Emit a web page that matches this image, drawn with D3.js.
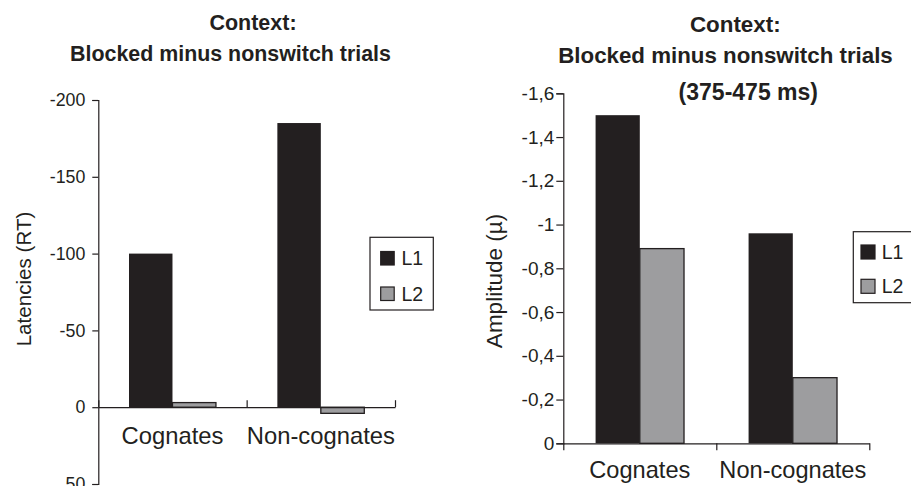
<!DOCTYPE html>
<html>
<head>
<meta charset="utf-8">
<script src="https://cdn.jsdelivr.net/npm/d3@7"></script>
<style>
  html, body { margin: 0; padding: 0; background: #fff; }
  svg { display: block; }
  text { font-family: "Liberation Sans", Arial, Helvetica, sans-serif; fill: #231f20; }
</style>
</head>
<body>
<svg id="chart" width="911" height="486"></svg>
<script>
// ---- data ----
const categories = ["Cognates", "Non-cognates"];
const seriesNames = ["L1", "L2"];
const latencyL1 = [-100, -185];
const latencyL2 = [-3, 4];
const amplitudeL1 = [-1.50, -0.96];
const amplitudeL2 = [-0.89, -0.30];
const latencyTicks = [-200, -150, -100, -50, 0, 50];
const latencyTickLabels = ["-200", "-150", "-100", "-50", "0", "50"];
const amplitudeTicks = [-1.6, -1.4, -1.2, -1.0, -0.8, -0.6, -0.4, -0.2, 0];
const amplitudeTickLabels = ["-1,6", "-1,4", "-1,2", "-1", "-0,8", "-0,6", "-0,4", "-0,2", "0"];
const seriesColors = ["#231f20", "#9d9d9f"];

const ink = "#231f20";
const svg = d3.select("#chart");

function panel(opt) {
  const g = svg.append("g");
  const y = d3.scaleLinear().domain(opt.yDomain).range(opt.yRange);
  const x0 = d3.scaleBand().domain(categories).range([opt.xLeft, opt.xRight]).padding(0);
  const inset = x0.bandwidth() * opt.insetFrac;
  const x1 = d3.scaleBand().domain(seriesNames).range([inset, x0.bandwidth() - inset]).padding(0);
  const y0 = y(0);

  // bars
  const rows = categories.map((c, i) => ({ c, vals: [opt.s1[i], opt.s2[i]] }));
  rows.forEach(r => {
    r.vals.forEach((v, k) => {
      const yy = Math.min(y(v), y0), hh = Math.abs(y(v) - y0);
      g.append("rect")
        .attr("x", x0(r.c) + x1(seriesNames[k]))
        .attr("y", yy)
        .attr("width", x1.bandwidth())
        .attr("height", hh)
        .attr("fill", seriesColors[k])
        .attr("stroke", k === 0 ? "none" : ink)
        .attr("stroke-width", 1.3);
    });
  });

  // y axis
  const yAxis = d3.axisLeft(y).tickValues(opt.yTicks)
    .tickFormat((d, i) => opt.yTickLabels[i]).tickSize(opt.yTickSize).tickPadding(opt.yTickPad);
  const ga = g.append("g").attr("transform", `translate(${opt.xLeft},0)`).call(yAxis);
  ga.select(".domain").attr("stroke", ink).attr("stroke-width", 1.2);
  ga.selectAll(".tick line").attr("stroke", ink).attr("stroke-width", 1.2);
  ga.selectAll("text").style("font-size", opt.yTickFont + "px").attr("fill", ink)
    .style("font-family", '"Liberation Sans", Arial, sans-serif');

  // x axis (category boundary ticks)
  const xb = d3.scaleLinear().domain([0, categories.length]).range([opt.xLeft, opt.xRight]);
  const xAxis = d3.axisBottom(xb).tickValues(d3.range(0, categories.length + 1))
    .tickFormat("").tickSizeInner(opt.xTickSize).tickSizeOuter(0);
  const gx = g.append("g").attr("transform", `translate(0,${y0})`).call(xAxis);
  gx.select(".domain").attr("stroke", ink).attr("stroke-width", 1.2);
  gx.selectAll(".tick line").attr("stroke", ink).attr("stroke-width", 1.2);

  // category labels
  g.selectAll(".cat").data(categories).enter().append("text")
    .attr("x", d => x0(d) + x0.bandwidth() / 2)
    .attr("y", opt.catY)
    .attr("text-anchor", "middle")
    .style("font-size", opt.catFont + "px")
    .text(d => d);

  // y label
  g.append("text")
    .attr("transform", `translate(${opt.yLabelX},${opt.yLabelY}) rotate(-90)`)
    .attr("text-anchor", "middle")
    .style("font-size", opt.yLabelFont + "px")
    .text(opt.yLabel);

  // titles
  opt.titles.forEach(t => {
    g.append("text").attr("x", t.x).attr("y", t.y).attr("text-anchor", "middle")
      .style("font-size", t.size + "px").style("font-weight", "bold").text(t.text);
  });

  // legend
  const L = opt.legend;
  g.append("rect").attr("x", L.x).attr("y", L.y).attr("width", L.w).attr("height", L.h)
    .attr("fill", "#fff").attr("stroke", ink).attr("stroke-width", 1.2);
  seriesNames.forEach((s, k) => {
    g.append("rect").attr("x", L.sx).attr("y", L.sy[k]).attr("width", L.ss).attr("height", L.ss)
      .attr("fill", seriesColors[k]).attr("stroke", ink).attr("stroke-width", 1.2);
    g.append("text").attr("x", L.tx).attr("y", L.sy[k] + L.ss).style("font-size", L.font + "px").text(s);
  });
}

panel({
  yDomain: [50, -200], yRange: [484, 100],
  xLeft: 98.3, xRight: 395, insetFrac: 0.207,
  s1: latencyL1, s2: latencyL2,
  yTicks: latencyTicks, yTickLabels: latencyTickLabels,
  yTickSize: 6, yTickPad: 7, yTickFont: 17.8,
  xTickSize: -7,
  catY: 444, catFont: 23.8,
  yLabel: "Latencies (RT)", yLabelX: 31, yLabelY: 279, yLabelFont: 20.6,
  titles: [
    { text: "Context:", x: 253, y: 30, size: 21.5 },
    { text: "Blocked minus nonswitch trials", x: 230.5, y: 61, size: 21.4 }
  ],
  legend: { x: 370, y: 237.3, w: 63.3, h: 72.7, sx: 380.7, sy: [251.5, 287], ss: 13.5, tx: 401.5, font: 19.5 }
});

panel({
  yDomain: [0, -1.6], yRange: [443.3, 93.3],
  xLeft: 563.3, xRight: 869.3, insetFrac: 0.211,
  s1: amplitudeL1, s2: amplitudeL2,
  yTicks: amplitudeTicks, yTickLabels: amplitudeTickLabels,
  yTickSize: 7, yTickPad: 2, yTickFont: 19,
  xTickSize: 7,
  catY: 478, catFont: 23.6,
  yLabel: "Amplitude (\u00b5)", yLabelX: 502, yLabelY: 281, yLabelFont: 22.5,
  titles: [
    { text: "Context:", x: 735.3, y: 32.3, size: 22.4 },
    { text: "Blocked minus nonswitch trials", x: 725.5, y: 63.3, size: 22.3 },
    { text: "(375-475 ms)", x: 748.3, y: 100, size: 23 }
  ],
  legend: { x: 853.3, y: 231.7, w: 70, h: 71, sx: 861, sy: [245, 279.3], ss: 14, tx: 881.7, font: 19.5 }
});
</script>
</body>
</html>
